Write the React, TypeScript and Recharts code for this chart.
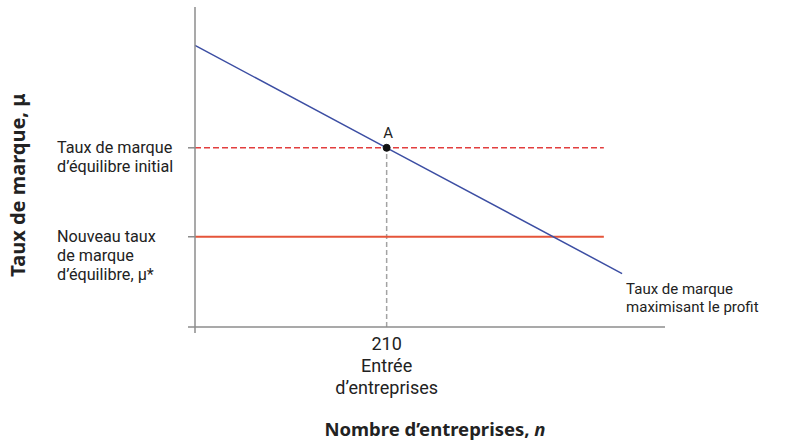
import React from 'react';
import { ComposedChart, Line, XAxis, YAxis, ReferenceLine, ReferenceDot, Label } from 'recharts';

// number of firms (n) and the profit-maximising markup (μ)
const firmCounts = [0, 210, 468];
const profitMaxMarkup = [88, 56, 16.7];

const initialMarkup = 56;
const newMarkup = 28.2;
const markupLineEnd = 448;
const entryFirms = 210;

const xTicks = [0, entryFirms];
const yTicks = [0, newMarkup, initialMarkup];

const initialLabel = ['Taux de marque', 'd’équilibre initial'];
const newLabel = ['Nouveau taux', 'de marque', 'd’équilibre, μ*'];
const entryLabel = ['210', 'Entrée', 'd’entreprises'];
const curveLabel = ['Taux de marque', 'maximisant le profit'];

const chartData = firmCounts.map((n, i) => ({ n, mu: profitMaxMarkup[i] }));

const FONT = '"Noto Sans", sans-serif';
const SMALL_FONT = 'Roboto, "Noto Sans", sans-serif';
const AXIS = '#8c8c8c';
const BLUE = '#3c4ea3';
const RED_DASH = '#e23e3e';
const RED = '#e5553a';

// one <text> with a <tspan> per line, first line centred on y
const MultiLine = ({ x, y, lines, step, anchor = 'start', size }: any) => (
  <text x={x} y={y} textAnchor={anchor} fontSize={size} fill="#222" fontFamily={SMALL_FONT}>
    {lines.map((t: string, i: number) => (
      <tspan key={i} x={x} dy={i === 0 ? '0.35em' : step}>
        {t}
      </tspan>
    ))}
  </text>
);

const YTick = (props: any) => {
  const { x, y, payload } = props;
  const v = payload.value;
  const lines = v === initialMarkup ? initialLabel : v === newMarkup ? newLabel : [];
  return (
    <g>
      <line x1={x} x2={x + 7} y1={y} y2={y} stroke={AXIS} strokeWidth={1.5} />
      {lines.length > 0 && <MultiLine x={57} y={y} lines={lines} step={19} size={16.2} />}
    </g>
  );
};

const XTick = (props: any) => {
  const { x, y, payload } = props;
  if (payload.value === 0) {
    return <line x1={x} x2={x} y1={y - 6} y2={y} stroke={AXIS} strokeWidth={1.5} />;
  }
  return <MultiLine x={x} y={y + 11} lines={entryLabel} step={22} anchor="middle" size={18} />;
};

const XTitle = (props: any) => {
  const { viewBox } = props;
  return (
    <text x={viewBox.x + viewBox.width / 2 + 5} y={viewBox.y + 103} dy="0.35em" textAnchor="middle" fontSize={18.5} fontWeight="bold" fill="#222" fontFamily={FONT}>
      Nombre d’entreprises, <tspan fontStyle="italic">n</tspan>
    </text>
  );
};

const YTitle = (props: any) => {
  const { viewBox } = props;
  const cx = viewBox.x + 18;
  const cy = 185;
  return (
    <text x={cx} y={cy} dy="0.35em" textAnchor="middle" transform={`rotate(-90 ${cx} ${cy})`} fontSize={20} fontWeight="bold" fill="#222" fontFamily={FONT}>
      Taux de marque, μ
    </text>
  );
};

const PointA = (props: any) => {
  const { viewBox } = props;
  return (
    <text x={viewBox.x + 5} y={viewBox.y - 12} dy="0.35em" textAnchor="middle" fontSize={15} fill="#222" fontFamily={SMALL_FONT}>
      A
    </text>
  );
};

const CurveTag = (props: any) => {
  const { viewBox } = props;
  return <MultiLine x={viewBox.x + 4} y={viewBox.y + 15} lines={curveLabel} step={18} size={15} />;
};

export default function App() {
  return (
    <div style={{ position: 'absolute', left: 0, top: 0, background: '#fff' }}>
      <ComposedChart width={810} height={444} data={chartData} margin={{ top: 7, right: 145, left: 0, bottom: 0 }}>
        <XAxis
          dataKey="n"
          type="number"
          domain={[0, 515]}
          ticks={xTicks}
          interval={0}
          height={117}
          stroke={AXIS}
          strokeWidth={1.5}
          tickLine={false}
          tickSize={6}
          tickMargin={0}
          tick={<XTick />}
        >
          <Label content={<XTitle />} />
        </XAxis>
        <YAxis
          type="number"
          domain={[0, 100]}
          ticks={yTicks}
          interval={0}
          width={195}
          stroke={AXIS}
          strokeWidth={1.5}
          tickLine={false}
          tickSize={7}
          tickMargin={0}
          tick={<YTick />}
        >
          <Label content={<YTitle />} />
        </YAxis>
        <ReferenceLine
          segment={[{ x: entryFirms, y: 0 }, { x: entryFirms, y: initialMarkup }]}
          stroke="#a3a3a3"
          strokeWidth={1.5}
          strokeDasharray="5 3"
        />
        <ReferenceLine
          segment={[{ x: 0, y: initialMarkup }, { x: markupLineEnd, y: initialMarkup }]}
          stroke={RED_DASH}
          strokeWidth={1.5}
          strokeDasharray="6 3"
        />
        <ReferenceLine
          segment={[{ x: 0, y: newMarkup }, { x: markupLineEnd, y: newMarkup }]}
          stroke={RED}
          strokeWidth={1.8}
        />
        <Line type="linear" dataKey="mu" stroke={BLUE} strokeWidth={1.5} dot={false} isAnimationActive={false} />
        <ReferenceDot x={entryFirms} y={initialMarkup} r={3.5} fill="#111" stroke="#111" label={<PointA />} />
        <ReferenceDot
          x={firmCounts[firmCounts.length - 1]}
          y={profitMaxMarkup[profitMaxMarkup.length - 1]}
          r={0}
          fill="none"
          stroke="none"
          label={<CurveTag />}
        />
      </ComposedChart>
    </div>
  );
}
